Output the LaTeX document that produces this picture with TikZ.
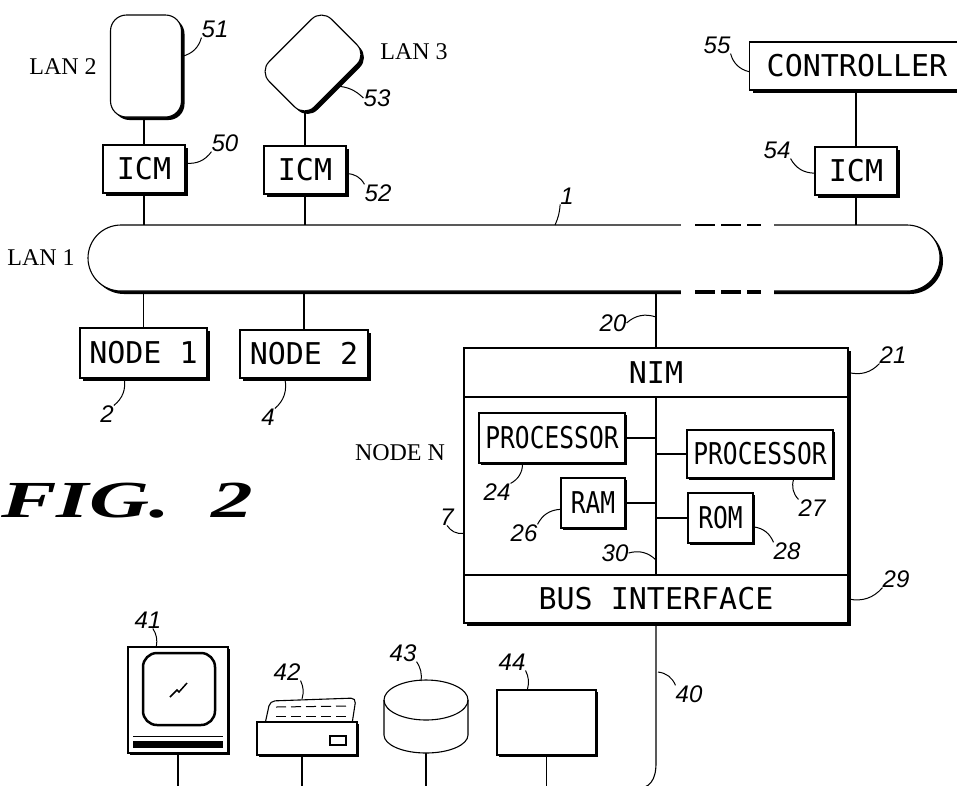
\documentclass[tikz,border=0pt]{standalone}
\usepackage{fontspec}
\setmainfont{Liberation Serif}
\newfontfamily\boxfont{DejaVu Sans Mono}
\newfontfamily\narrowfont{DejaVu Sans Mono}[FakeStretch=0.82]
\newfontfamily\numfont{Liberation Sans}
\usetikzlibrary{shadows,backgrounds}

\tikzset{
  deepshadow/.style={drop shadow={shadow xshift=3pt,shadow yshift=-3pt,fill=black,opacity=1}},
  thinshadow/.style={drop shadow={shadow xshift=1.5pt,shadow yshift=-1.5pt,fill=black,opacity=1}},
  box/.style={draw,fill=white,line width=1.1pt,inner sep=0pt,font=\boxfont\fontsize{30}{30}\selectfont},
  inbox/.style={box,font=\narrowfont\fontsize{30}{30}\selectfont},
  num/.style={inner sep=0pt,font=\numfont\itshape\fontsize{24}{24}\selectfont},
  lbl/.style={inner sep=0pt,font=\fontsize{24}{24}\selectfont},
  wire/.style={line width=1.1pt},
  lead/.style={line width=1pt}
}

\begin{document}
\begin{tikzpicture}[x=1pt,y=-1pt]
\useasboundingbox (0,0) rectangle (957,785);
\clip (0,0) rectangle (957,785);
% other LANs and the controller
\node[box,deepshadow,rounded corners=16pt,minimum width=71pt,minimum height=102pt] (lanB) at (146,66) {};
\node[box,deepshadow,rounded corners=14pt,minimum width=88pt,minimum height=64pt,rotate=45] (lanC) at (313,63) {};
\node[box,deepshadow,minimum width=82pt,minimum height=48pt] (icmA) at (144,169) {ICM};
\node[box,deepshadow,minimum width=82pt,minimum height=48pt] (icmB) at (305,170) {ICM};
\node[box,deepshadow,minimum width=215pt,minimum height=48pt] (ctrl) at (857,66) {CONTROLLER};
\node[box,deepshadow,minimum width=82pt,minimum height=48pt] (icmC) at (856,171) {ICM};
\node[lbl] (tLanB) at (63,67) {LAN 2};
\node[lbl] (tLanC) at (414,52) {LAN 3};

% LAN 1 ring, broken on the right
\node[box,deepshadow,rounded corners=33pt,minimum width=852pt,minimum height=66pt] (lanA) at (514,258) {};
\fill[white] (681,215) rectangle (774,302);
\foreach \a/\b in {695/715,721/741,747/761}{
  \draw[wire] (\a,225) -- (\b,225);
  \draw[line width=3.5pt] (\a,292) -- (\b,292);
}
\node[lbl] (tLanA) at (41,258) {LAN 1};

\node[box,deepshadow,minimum width=127pt,minimum height=50pt] (nodeA) at (143.5,353) {NODE 1};
\node[box,deepshadow,minimum width=128pt,minimum height=48pt] (nodeB) at (304,354) {NODE 2};

% node N
\node[box,deepshadow,minimum width=384pt,minimum height=275pt] (nodeN) at (656,485.5) {};
\node[box,minimum width=384pt,minimum height=49pt,anchor=north] (nim) at (nodeN.north) {NIM};
\node[box,minimum width=384pt,minimum height=48pt,anchor=south] (busif) at (nodeN.south) {BUS INTERFACE};
\node[inbox,thinshadow,minimum width=146pt,minimum height=50pt] (procA) at (552,438) {PROCESSOR};
\node[inbox,thinshadow,minimum width=64pt,minimum height=50pt] (ram) at (593,503) {RAM};
\node[inbox,thinshadow,minimum width=146pt,minimum height=48pt] (procB) at (760,454) {PROCESSOR};
\node[inbox,thinshadow,minimum width=65pt,minimum height=50pt] (rom) at (720.5,518) {ROM};
\draw[wire] (nim.south) -- (busif.north);
\draw[wire] (procA.east) -- (procA.east -| nim.south);
\draw[wire] (ram.east) -- (ram.east -| nim.south);
\draw[wire] (procB.west -| nim.south) -- (procB.west);
\draw[wire] (rom.west -| nim.south) -- (rom.west);
\node[lbl] (tNodeN) at (400,453) {NODE N};

% peripherals
\node[box,thinshadow,minimum width=100pt,minimum height=106pt] (crt) at (178,700) {};
\node[draw,line width=2.5pt,rounded corners=14pt,minimum width=72pt,minimum height=72pt] (screen) at (179,689) {};
\draw[line width=1.5pt] (170,697) -- (177,690) -- (179,692) -- (187,683);
\draw[line width=1pt] (133,736) -- (223,736);
\fill (133,741) rectangle (223,748);
\draw[wire,fill=white,rounded corners=5pt] (265,724) -- (270,701) -- (356,698) -- (352,724);
\draw[lead,dash pattern=on 10pt off 5pt] (276,707) -- (350,706);
\draw[lead,dash pattern=on 10pt off 5pt] (276,716) -- (350,716);
\coordinate (paper) at (302,699);
\node[box,thinshadow,minimum width=100pt,minimum height=33pt] (prn) at (307,738.5) {};
\draw[line width=2pt] (330,736) rectangle (346,745);
\draw[wire,fill=white] (384,700) -- (384,735) arc[start angle=180,end angle=360,x radius=42pt,y radius=18pt]
  -- (468,700) arc[start angle=0,end angle=180,x radius=42pt,y radius=20pt] -- cycle;
\draw[wire] (384,700) arc[start angle=180,end angle=360,x radius=42pt,y radius=20pt];
\coordinate (diskTop) at (421,681);
\coordinate (disk) at (426,753);
\node[box,thinshadow,minimum width=99pt,minimum height=65pt] (unit) at (546.5,722.5) {};

% connections
\coordinate (ground) at (0,789);
\begin{scope}[on background layer]
  \draw[wire] (icmA.north) -- (icmA.north |- lanB.center);
  \draw[wire] (icmA.south) -- (icmA.south |- lanA.center);
  \draw[wire] (icmB.north) -- (icmB.north |- lanC.center);
  \draw[wire] (icmB.south) -- (icmB.south |- lanA.center);
  \draw[wire] (icmC.north) -- (icmC.north |- ctrl.center);
  \draw[wire] (icmC.south) -- (icmC.south |- lanA.center);
  \draw[wire] (nodeA.north) -- (nodeA.north |- lanA.center);
  \draw[wire] (nodeB.north) -- (nodeB.north |- lanA.center);
  \draw[wire] (nim.north) -- (nim.north |- lanA.center);
  \draw[wire] (busif.south) -- (656,763) .. controls (656,780) and (650,789) .. (634,789) -- (crt.south |- ground);
  \draw[wire] (crt.south) -- (crt.south |- ground);
  \draw[wire] (prn.south -| paper) -- (paper |- ground);
  \draw[wire] (disk) -- (disk |- ground);
  \draw[wire] (unit.south) -- (unit.south |- ground);
\end{scope}

% reference numbers
\node[num] (n51) at (215,29) {51};
\node[num] (n50) at (225,143) {50};
\node[num] (n53) at (377,98) {53};
\node[num] (n52) at (378,193) {52};
\node[num] (n55) at (717,45) {55};
\node[num] (n54) at (777,150) {54};
\node[num] (n1) at (567,196) {1};
\node[num] (n2) at (107,414) {2};
\node[num] (n4) at (268,417) {4};
\node[num] (n20) at (613,323) {20};
\node[num] (n21) at (893,355) {21};
\node[num] (n7) at (447,517) {7};
\node[num] (n24) at (497,492) {24};
\node[num] (n26) at (524,533) {26};
\node[num] (n27) at (812,508) {27};
\node[num] (n28) at (787,551) {28};
\node[num] (n30) at (615,553) {30};
\node[num] (n29) at (896,579) {29};
\node[num] (n40) at (689,694) {40};
\node[num] (n41) at (148,620) {41};
\node[num] (n42) at (287,672) {42};
\node[num] (n43) at (403,653) {43};
\node[num] (n44) at (512,662) {44};
\coordinate (c1) at (555,225);
\coordinate (c20) at (656,317);
\coordinate (c30) at (656,560);
\coordinate (c40) at (658,672);

\draw[lead] (lanB.15) to[bend right] (n51.south west);
\draw[lead] (icmA.8) to[bend right] (n50.south west);
\draw[lead] (lanC.south) to[bend left=20] (n53.west);
\draw[lead] (icmB.-5) to[bend left] (n52.north west);
\draw[lead] (ctrl.183) to[bend left] (n55.south east);
\draw[lead] (icmC.183) to[bend left] (n54.south east);
\draw[lead] (c1) to[bend right=10] (n1.south west);
\draw[lead] (nodeA.-127) to[bend left] (n2.north east);
\draw[lead] (nodeB.-128) to[bend left] (n4.north east);
\draw[lead] (n20.east) to[bend left] (c20);
\draw[lead] (nim.east) to[bend right] (n21.south west);
\draw[lead] (n7.south) to[bend right] (nodeN.194);
\draw[lead] (procA.-139) to[bend left] (n24.north east);
\draw[lead] (ram.191) to[bend right] (n26.north east);
\draw[lead] (procB.-36) to[bend right] (n27.north west);
\draw[lead] (rom.-15) to[bend left] (n28.north west);
\draw[lead] (n30.east) to[bend left] (c30);
\draw[lead] (busif.east) to[bend right] (n29.south west);
\draw[lead] (c40) to[bend left] (n40.north west);
\draw[lead] (n41.-60) to[bend left=20] (crt.112);
\draw[lead] (n42.south east) to[bend left=20] (paper);
\draw[lead] (n43.south east) to[bend left=20] (diskTop);
\draw[lead] (n44.south east) to[bend left=20] (unit.120);

\node[anchor=base west,inner sep=0pt,font=\bfseries\itshape\fontsize{52}{52}\selectfont] (fig) at (1,517) {\scalebox{1.6}[1]{FIG.\hspace{0.5em}2}};
\end{tikzpicture}
\end{document}
